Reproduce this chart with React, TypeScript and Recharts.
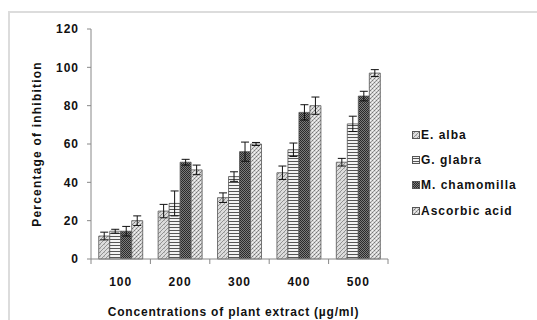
import { BarChart, Bar, XAxis, YAxis, ErrorBar, Legend } from 'recharts';

const concentrations = ['100', '200', '300', '400', '500'];

const eAlba = [12, 25, 32, 45, 50.5];
const eAlbaErr = [2, 3.5, 2.5, 3.5, 2];
const gGlabra = [14.5, 29, 43, 57, 70.5];
const gGlabraErr = [1, 6.5, 2.5, 3.5, 4];
const mChamomilla = [14.5, 50.5, 56, 76.5, 85];
const mChamomillaErr = [2.5, 1.5, 5, 4, 2.5];
const ascorbicAcid = [20, 46.5, 60, 80, 97];
const ascorbicAcidErr = [2.5, 2.5, 0.8, 4.5, 1.8];

const yTicks = [0, 20, 40, 60, 80, 100, 120];

const series = [
  { key: 'eAlba', err: 'eAlbaErr', name: 'E. alba', fill: 'url(#pE)' },
  { key: 'gGlabra', err: 'gGlabraErr', name: 'G. glabra', fill: 'url(#pG)' },
  { key: 'mChamomilla', err: 'mChamomillaErr', name: 'M. chamomilla', fill: 'url(#pM)' },
  { key: 'ascorbicAcid', err: 'ascorbicAcidErr', name: 'Ascorbic acid', fill: 'url(#pA)' },
];

const data = concentrations.map((c, i) => ({
  conc: c,
  eAlba: eAlba[i],
  eAlbaErr: eAlbaErr[i],
  gGlabra: gGlabra[i],
  gGlabraErr: gGlabraErr[i],
  mChamomilla: mChamomilla[i],
  mChamomillaErr: mChamomillaErr[i],
  ascorbicAcid: ascorbicAcid[i],
  ascorbicAcidErr: ascorbicAcidErr[i],
}));

const FONT = '"Liberation Sans", Arial, sans-serif';
const BAND = 297 / concentrations.length;

function XTick(props: any) {
  const { x, y, payload, index } = props;
  const left = x - BAND / 2;
  return (
    <g>
      <line x1={left} y1={y} x2={left} y2={y + 5} stroke="#888" />
      {index === concentrations.length - 1 && (
        <line x1={left + BAND} y1={y} x2={left + BAND} y2={y + 5} stroke="#888" />
      )}
      <text
        x={x}
        y={y + 27}
        textAnchor="middle"
        fontFamily={FONT}
        fontWeight="bold"
        fontSize={12}
        letterSpacing={1}
        fill="#111"
      >
        {payload.value}
      </text>
    </g>
  );
}

function LegendBox() {
  return (
    <div style={{ width: 120, paddingLeft: 24, boxSizing: 'border-box' }}>
      {series.map((s) => (
        <div
          key={s.key}
          style={{
            height: 25.4,
            display: 'flex',
            alignItems: 'center',
            fontFamily: FONT,
            fontWeight: 'bold',
            fontSize: 12,
            letterSpacing: 1,
            color: '#111',
            whiteSpace: 'nowrap',
          }}
        >
          <svg width={8} height={8} style={{ marginRight: 1, flexShrink: 0, display: 'block' }}>
            <rect x={0.5} y={0.5} width={7} height={7} fill={s.fill} stroke="#555" />
          </svg>
          {s.name}
        </div>
      ))}
    </div>
  );
}

export default function App() {
  return (
    <div style={{ position: 'absolute', left: 0, top: 0, width: 537, height: 320, background: '#fff', overflow: 'hidden' }}>
      <div
        style={{
          position: 'absolute',
          left: 8,
          top: 11,
          width: 600,
          height: 400,
          borderTop: '2px solid #dcdcdc',
          borderLeft: '2px solid #dcdcdc',
        }}
      />
      <svg width={0} height={0} style={{ position: 'absolute' }}>
        <defs>
          <pattern id="pE" width={4} height={4} patternUnits="userSpaceOnUse">
            <rect width={4} height={4} fill="#dcdcdc" />
            <path d="M0,4 L4,0" stroke="#8a8a8a" strokeWidth={0.9} />
            <path d="M0,0 L1,1" stroke="#aaa" strokeWidth={0.6} />
          </pattern>
          <pattern id="pG" width={4} height={3} patternUnits="userSpaceOnUse">
            <rect width={4} height={3} fill="#f2f2f2" />
            <rect y={2} width={4} height={1} fill="#555" />
          </pattern>
          <pattern id="pM" width={2} height={2} patternUnits="userSpaceOnUse">
            <rect width={2} height={2} fill="#7a7a7a" />
            <rect width={1} height={1} fill="#2a2a2a" />
            <rect x={1} y={1} width={1} height={1} fill="#2a2a2a" />
          </pattern>
          <pattern id="pA" width={4} height={4} patternUnits="userSpaceOnUse">
            <rect width={4} height={4} fill="#d6d6d6" />
            <rect x={0} y={0} width={1} height={1} fill="#777" />
            <rect x={2} y={2} width={1} height={1} fill="#777" />
            <rect x={1} y={3} width={1} height={1} fill="#999" />
            <rect x={3} y={1} width={1} height={1} fill="#999" />
            <rect x={2} y={0} width={1} height={1} fill="#f4f4f4" />
            <rect x={0} y={2} width={1} height={1} fill="#f4f4f4" />
          </pattern>
        </defs>
      </svg>
      <BarChart
        width={537}
        height={320}
        data={data}
        margin={{ top: 29, right: 29, bottom: 0, left: 41 }}
        barCategoryGap="13%"
        barGap={0}
      >
        <XAxis
          dataKey="conc"
          height={61}
          stroke="#888"
          tickLine={false}
          tickSize={0}
          tickMargin={0}
          tick={<XTick />}
          interval={0}
          label={{
            value: 'Concentrations  of plant extract (µg/ml)',
            position: 'insideBottom',
            offset: 4,
            dx: -6,
            style: { fontFamily: FONT, fontWeight: 'bold', fontSize: 12, letterSpacing: 0.8, fill: '#111' },
          }}
        />
        <YAxis
          width={50}
          domain={[0, 120]}
          ticks={yTicks}
          stroke="#888"
          tickSize={4}
          tickMargin={8}
          tick={{ fontFamily: FONT, fontWeight: 'bold', fontSize: 12, letterSpacing: 1, fill: '#111' }}
          label={{
            value: 'Percentage  of inhibition',
            angle: -90,
            position: 'insideLeft',
            offset: 0,
            dx: -4,
            style: { textAnchor: 'middle', fontFamily: FONT, fontWeight: 'bold', fontSize: 12, letterSpacing: 1.2, fill: '#111' },
          }}
        />
        <Legend
          layout="vertical"
          align="right"
          verticalAlign="top"
          wrapperStyle={{ top: 122, right: 29, width: 120 }}
          content={<LegendBox />}
        />
        {series.map((s) => (
          <Bar
            key={s.key}
            dataKey={s.key}
            name={s.name}
            fill={s.fill}
            stroke="#555"
            strokeWidth={0.8}
            isAnimationActive={false}
          >
            <ErrorBar dataKey={s.err} width={4} stroke="#111" strokeWidth={1} />
          </Bar>
        ))}
      </BarChart>
    </div>
  );
}
